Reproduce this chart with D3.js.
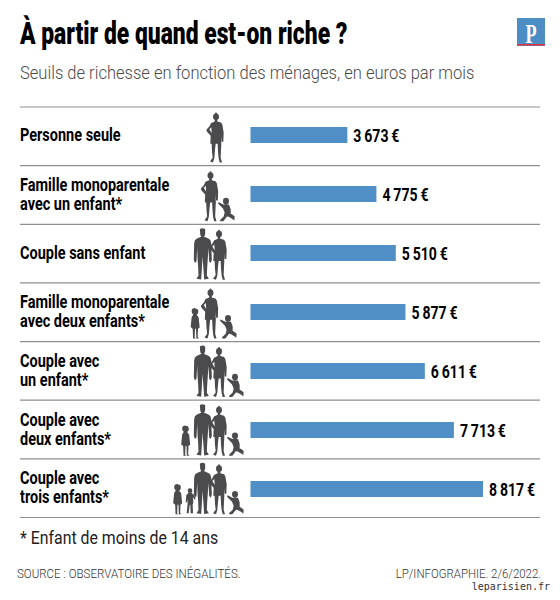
<!DOCTYPE html>
<html>
<head>
<meta charset="utf-8">
<script src="https://cdn.jsdelivr.net/npm/d3@7"></script>
<style>
  html, body { margin: 0; padding: 0; background: #fff; }
  text { font-family: Roboto, "Liberation Sans", sans-serif; }
</style>
</head>
<body>
<div id="chart"></div>
<script>
// data
var categories = [
  "Personne seule",
  "Famille monoparentale|avec un enfant*",
  "Couple sans enfant",
  "Famille monoparentale|avec deux enfants*",
  "Couple avec|un enfant*",
  "Couple avec|deux enfants*",
  "Couple avec|trois enfants*"
];
var values = [3673, 4775, 5510, 5877, 6611, 7713, 8817];
var households = [
  ["femme"],
  ["femme", "bambin"],
  ["homme", "femme"],
  ["enfant", "femme", "bambin"],
  ["homme", "femme", "bambin"],
  ["enfant", "homme", "femme", "bambin"],
  ["enfant", "petit", "homme", "femme", "bambin"]
];

var title = "À partir de quand est-on riche ?";
var subtitle = "Seuils de richesse en fonction des ménages, en euros par mois";
var footnote = "* Enfant de moins de 14 ans";
var source = "SOURCE : OBSERVATOIRE DES INÉGALITÉS.";
var credit = "LP/INFOGRAPHIE.  2/6/2022.";
var site = "leparisien.fr";

// silhouettes, head top at 0,0, drawn at 3 times their size
var silhouettes = {
  femme: { h: 150, d: "M-3 3a3 3 0 1 0 6 0a3 3 0 1 0-6 0z M-9 13a9 10 0 1 0 18 0a9 10 0 1 0-18 0z M-4 21L-4 27L-15 32L-20 42L-29 52L-27 58L-16 70L-17 94L-13 94L-12 118L-10 136L-18 147L-9 150L-5 137L-3 112L-1 94L5 94L6 118L8 138L11 150L18 150L14 136L15 112L16 94L15 70L17 88L22 88L23 60L19 36L15 30L4 27L4 21Z M-20 50L-14 44L-13 62Z" },
  homme: { h: 155, d: "M-8 3q8-5 16 0v14q0 6-4 8l15 7q6 3 7 13l2 50l-3 10l-5-5l-2-40l-2 30l-2 30l-1 22l6 10l-14 2l-2-30l-3-38l-2 38l-2 30l-14-2l6-10l-1-25l-2-27l-1-30l-2 40l-5 5l-3-10l1-50q1-10 7-13l15-7q-4-2-4-8z" },
  bambin: { h: 70, d: "M-9 10a9 10 0 1 0 18 0a9 10 0 1 0-18 0z M-8 20L-22 13L-24 17L-9 32L-4 44L-7 56L-17 66L-18 70L-8 70L3 56L8 57L20 64L25 68L26 56L19 50L14 48L14 34L9 20Z" },
  enfant: { h: 90, d: "M0 0a10 10 0 0 1 10 10a10 10 0 0 1-5 9l6 8l3 30l-5 4l-1 25l4 4h-8l-1-29h-3l-1 26l3 3h-8l0-4l-1-25l-6-5l3-30l5-8a10 10 0 0 1-5-9a10 10 0 0 1 10-10z" },
  petit: { h: 78, d: "M0 0a7 7 0 0 1 7 7a7 7 0 0 1-3 6l8 7l5 12l-3 2l-5-8l1 18l-2 4l1 27h-7l-1-25l-2 0l-3 25h-6l3-30l-1-12l-2 10l-3-1l2-22l7-7a7 7 0 0 1-3-6a7 7 0 0 1 7-7z" }
};

// where each silhouette stands, by number of people in the row
var standX = {
  "femme": [216],
  "femme,bambin": [210.5, 226],
  "homme,femme": [202.5, 219],
  "enfant,femme,bambin": [195, 210.5, 228],
  "homme,femme,bambin": [202.5, 219, 235],
  "enfant,homme,femme,bambin": [185.5, 202.5, 219, 235],
  "enfant,petit,homme,femme,bambin": [177.5, 190, 202.5, 219, 235]
};

var width = 560, height = 600;
var svg = d3.select("#chart").append("svg")
  .attr("width", width)
  .attr("height", height)
  .style("display", "block");

// condensed type does not exist here, so squeeze the text horizontally
function label(x, y, str, size, weight, fill, squeeze, anchor) {
  return svg.append("text")
    .attr("transform", "translate(" + x + "," + y + ") scale(" + squeeze + ",1)")
    .attr("font-size", size)
    .attr("font-weight", weight)
    .attr("fill", fill)
    .attr("text-anchor", anchor || "start")
    .text(str);
}

var x = d3.scaleLinear().domain([0, d3.max(values)]).range([250.5, 483]);
var y = d3.scaleBand().domain(categories).range([107, 517.5]);
// the bars are spaced a little wider than the rows
var barY = d3.scaleBand().domain(categories).range([105.5, 518.5]);

var euro = d3.formatLocale({
  decimal: ",", thousands: "\u2009", grouping: [3], currency: ["", "\u2009€"]
}).format("$,d");

// header
label(20, 44, title, 32, 900, "#000", 0.714);
label(20, 79, subtitle, 18.5, 300, "#4a4a4a", 0.895);

// logo
svg.append("rect").attr("x", 517).attr("y", 18).attr("width", 28).attr("height", 28).attr("fill", "#4c8dc4");
svg.append("rect").attr("x", 517).attr("y", 44).attr("width", 28).attr("height", 1.5).attr("fill", "#e2313f");
svg.append("text").attr("transform", "translate(531,43) scale(0.65,1)").attr("text-anchor", "middle")
  .attr("font-size", 28).attr("font-weight", 700).attr("fill", "#fff")
  .style("font-family", "'Liberation Serif', serif")
  .text("P");

// separators
svg.selectAll("line.sep")
  .data(d3.range(categories.length + 1))
  .enter().append("line")
  .attr("class", "sep")
  .attr("x1", 20).attr("x2", 540)
  .attr("y1", function (i) { return 107 + i * y.step(); })
  .attr("y2", function (i) { return 107 + i * y.step(); })
  .attr("stroke", "#8f8f8f")
  .attr("stroke-width", 1.2);

// bars
svg.selectAll("rect.bar")
  .data(values)
  .enter().append("rect")
  .attr("class", "bar")
  .attr("x", x(0))
  .attr("y", function (d, i) { return barY(categories[i]) + barY.bandwidth() / 2 - 8; })
  .attr("width", function (d) { return x(d) - x(0); })
  .attr("height", 16)
  .attr("fill", "#4f8fc5");

values.forEach(function (v, i) {
  var mid = y(categories[i]) + y.bandwidth() / 2;

  // value
  label(x(v) + 6, barY(categories[i]) + barY.bandwidth() / 2 + 6.5, euro(v), 18.5, 700, "#000", 0.76);

  // category, one or two lines
  var lines = categories[i].split("|");
  lines.forEach(function (line, n) {
    var top = lines.length === 1 ? mid + 5 : mid - 4 + n * 19;
    label(20, top, line, 18, 700, "#000", 0.805);
  });

  // people
  var stand = standX[households[i].join(",")];
  households[i].forEach(function (who, n) {
    var s = silhouettes[who];
    svg.append("path")
      .attr("d", s.d)
      .attr("fill", "#4b4b4d")
      .attr("transform", "translate(" + stand[n] + "," + (y(categories[i]) + 55.5 - s.h / 3) + ") scale(0.3333)");
  });
});

// footer
label(20, 544, footnote, 19, 400, "#222", 0.835);
label(17, 578, source, 12, 300, "#333", 0.963);
label(541, 578, credit, 12, 300, "#333", 0.953, "end");
svg.append("text").attr("x", 550).attr("y", 590).attr("text-anchor", "end")
  .attr("font-size", 10).attr("fill", "#333")
  .style("font-family", "'DejaVu Sans Mono', monospace")
  .text(site);
</script>
</body>
</html>
